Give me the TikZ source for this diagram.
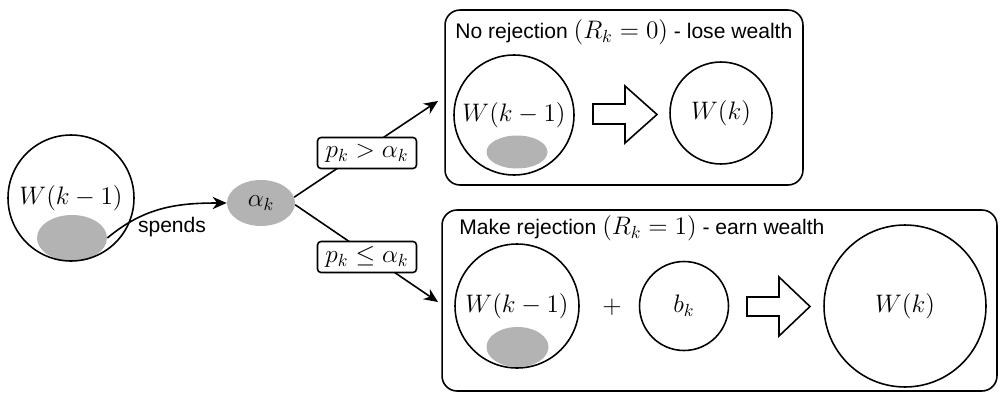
\documentclass[tikz,border=0pt]{standalone}
\usepackage{fontspec}
\newfontfamily\lsans{Liberation Sans}
\usetikzlibrary{shapes.geometric,arrows.meta}
\definecolor{blobgray}{HTML}{B3B3B3}
\newcommand{\mfont}{\fontsize{14.5}{17}\selectfont}
\tikzset{
  wcirc/.style={draw, circle, line width=0.9pt, inner sep=0pt, font=\mfont},
  gblob/.style={ellipse, fill=blobgray, inner sep=0pt},
  lab/.style={draw, rounded corners=2pt, fill=white, line width=0.9pt, inner sep=1pt,
              minimum width=1.98cm, minimum height=0.62cm, font=\mfont},
  panel/.style={draw, rounded corners=0.3cm, line width=0.9pt, inner sep=0pt},
  ttl/.style={anchor=west, inner sep=0pt, font=\lsans\fontsize{12}{14}\selectfont},
  arr/.style={line width=0.9pt, -{Stealth[length=8pt,width=7pt]}},
  blockarrow/.style={draw, fill=white, line width=0.9pt, line join=miter},
}
\begin{document}
\begin{tikzpicture}[x=0.02cm, y=-0.02cm]
\useasboundingbox (0,0) rectangle (1000,392);
% left part
\node[gblob, minimum width=1.4cm, minimum height=0.92cm] (lblob) at (72,238) {};
\node[wcirc, minimum size=2.52cm] (lw) at (71,198) {$W(k-1)$};
\node[gblob, minimum width=1.36cm, minimum height=0.92cm, font=\mfont] (alpha) at (261,203) {$\alpha_k$};
\draw[arr] (lblob.east) to[out=40,in=180] (alpha.west);
\node[font=\lsans\fontsize{12}{14}\selectfont] (sp) at (172,227) {spends};
% branches
\coordinate (ta) at (438,101);
\coordinate (tb) at (438,302);
\draw[arr] (alpha.10) -- (ta);
\draw[arr] (alpha.-3) -- (tb);
\node[lab] (lt) at (367,153) {$p_k > \alpha_k$};
\node[lab] (lb) at (367,257) {$p_k \leq \alpha_k$};
% top panel
\node[panel, minimum width=7.16cm, minimum height=3.5cm] (tp) at (624,97.5) {};
\node[ttl] (tt) at (455,32) {No rejection {\mfont$(R_k=0)$} - lose wealth};
\node[gblob, minimum width=1.22cm, minimum height=0.66cm] (tblob) at (517,152) {};
\node[wcirc, minimum size=2.4cm] (tw1) at (514,115) {$W(k-1)$};
\draw[blockarrow] (593,104) -- (625,104) -- (625,86) -- (657,114.5) -- (625,143) -- (625,124) -- (593,124) -- cycle;
\node[wcirc, minimum size=2.04cm] (tw2) at (721,113) {$W(k)$};
% bottom panel
\node[panel, minimum width=11.1cm, minimum height=3.62cm] (bp) at (719.5,300.5) {};
\node[ttl] (bt) at (459,228) {Make rejection {\mfont$(R_k=1)$} - earn wealth};
\node[gblob, minimum width=1.24cm, minimum height=0.8cm] (bblob) at (517.5,347) {};
\node[wcirc, minimum size=2.48cm] (bw1) at (517,306) {$W(k-1)$};
\node[font=\mfont] (plus) at (612,307) {$+$};
\node[wcirc, minimum size=1.78cm] (bk) at (684,306) {$b_k$};
\draw[blockarrow] (747,297) -- (779,297) -- (779,277) -- (810,306.5) -- (779,336) -- (779,316) -- (747,316) -- cycle;
\node[wcirc, minimum size=3.24cm] (bw2) at (905,306) {$W(k)$};
\end{tikzpicture}
\end{document}
